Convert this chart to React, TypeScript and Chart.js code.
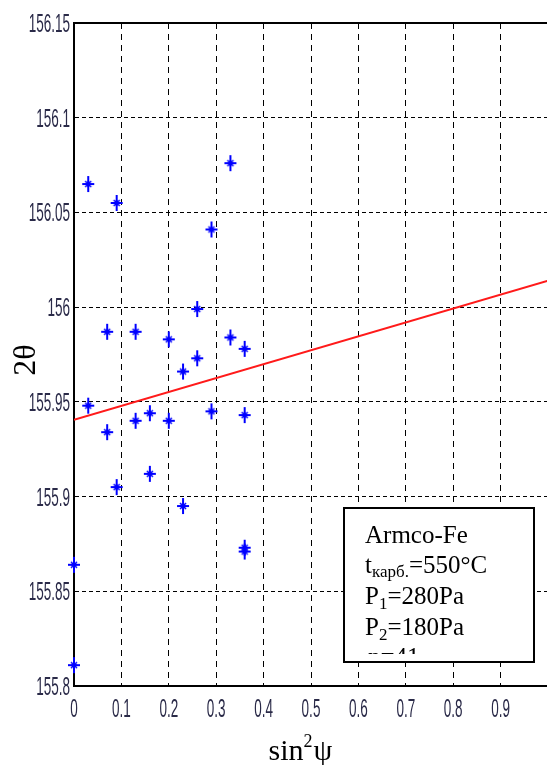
import React, { useEffect, useRef } from "react";
import { Chart, registerables } from "chart.js";

Chart.register(...registerables);

// sin^2(psi) values of the measurements
const xValues = [0.03, 0.09, 0.33, 0.29, 0.07, 0.13, 0.26, 0.2, 0.23, 0.26, 0.33, 0.36, 0.03, 0.07, 0.13, 0.16, 0.2, 0.29, 0.36, 0.16, 0.09, 0.23, 0, 0, 0.36, 0.36];
// 2theta values
const yValues = [156.065, 156.055, 156.076, 156.041, 155.987, 155.987, 155.999, 155.983, 155.966, 155.973, 155.984, 155.978, 155.948, 155.934, 155.94, 155.944, 155.94, 155.945, 155.943, 155.912, 155.905, 155.895, 155.864, 155.811, 155.873, 155.871];

// regression line end points
const fitX = [0, 1];
const fitY = [155.9405, 156.014];

const xTicks = [0, 0.1, 0.2, 0.3, 0.4, 0.5, 0.6, 0.7, 0.8, 0.9, 1];
const xTickLabels = ["0", "0.1", "0.2", "0.3", "0.4", "0.5", "0.6", "0.7", "0.8", "0.9", "1"];
const yTicks = [155.8, 155.85, 155.9, 155.95, 156, 156.05, 156.1, 156.15];
const yTickLabels = ["155.8", "155.85", "155.9", "155.95", "156", "156.05", "156.1", "156.15"];

const xTitleMain = "sin";
const xTitleSup = "2";
const xTitleEnd = "ψ";
const yTitle = "2θ";

const noteLine1 = "Armco-Fe";
const noteLine2 = ["t", "карб.", "=550°C"];
const noteLine3 = ["P", "1", "=280Pa"];
const noteLine4 = ["P", "2", "=180Pa"];
const noteLine5 = "n=41";

const TICK_COLOR = "#2a2a48";

function makeMarker(): HTMLCanvasElement {
  const c = document.createElement("canvas");
  c.width = 16;
  c.height = 20;
  const g = c.getContext("2d")!;
  g.strokeStyle = "#0000ff";
  g.lineCap = "butt";
  g.lineWidth = 2;
  g.beginPath();
  g.moveTo(8, 2);
  g.lineTo(8, 18);
  g.moveTo(2, 10);
  g.lineTo(14, 10);
  g.stroke();
  g.lineWidth = 1.5;
  g.beginPath();
  g.moveTo(5, 7);
  g.lineTo(11, 13);
  g.moveTo(11, 7);
  g.lineTo(5, 13);
  g.stroke();
  return c;
}

const decorPlugin = {
  id: "decor",
  afterDraw(chart: any) {
    const { ctx, chartArea, scales } = chart;
    const xs = scales.x;
    const ys = scales.y;
    ctx.save();
    // top frame line
    ctx.strokeStyle = "#000";
    ctx.lineWidth = 2;
    ctx.beginPath();
    ctx.moveTo(chartArea.left, chartArea.top);
    ctx.lineTo(chartArea.right, chartArea.top);
    ctx.stroke();

    // tick labels (narrow)
    ctx.fillStyle = TICK_COLOR;
    ctx.font = '26px "Liberation Sans", Arial, sans-serif';
    ctx.textBaseline = "alphabetic";
    yTicks.forEach((v, i) => {
      const py = ys.getPixelForValue(v);
      ctx.save();
      ctx.translate(chartArea.left - 4, py + 9);
      ctx.scale(0.52, 1);
      ctx.textAlign = "right";
      ctx.fillText(yTickLabels[i], 0, 0);
      ctx.restore();
    });
    xTicks.forEach((v, i) => {
      const px = xs.getPixelForValue(v);
      ctx.save();
      ctx.translate(px + (i === xTicks.length - 1 ? 3 : 0), chartArea.bottom + 31);
      ctx.scale(0.52, 1);
      ctx.textAlign = "center";
      ctx.fillText(xTickLabels[i], 0, 0);
      ctx.restore();
    });

    // axis titles
    ctx.fillStyle = "#000";
    ctx.font = '30px "Liberation Serif", "Times New Roman", serif';
    ctx.textAlign = "left";
    const wMain = ctx.measureText(xTitleMain).width;
    ctx.font = '18px "Liberation Serif", "Times New Roman", serif';
    const wSup = ctx.measureText(xTitleSup).width;
    ctx.font = '30px "Liberation Serif", "Times New Roman", serif';
    const wEnd = ctx.measureText(xTitleEnd).width;
    const total = wMain + wSup + wEnd;
    let tx = 300 - total / 2;
    const tb = 760;
    ctx.fillText(xTitleMain, tx, tb);
    tx += wMain;
    ctx.font = '18px "Liberation Serif", "Times New Roman", serif';
    ctx.fillText(xTitleSup, tx, tb - 13);
    tx += wSup + 1;
    ctx.font = '30px "Liberation Serif", "Times New Roman", serif';
    ctx.fillText(xTitleEnd, tx, tb);

    ctx.save();
    ctx.translate(35, 360);
    ctx.rotate(-Math.PI / 2);
    ctx.font = '32px "Liberation Serif", "Times New Roman", serif';
    ctx.textAlign = "center";
    ctx.fillText(yTitle, 0, 0);
    ctx.restore();

    // note box
    const bx = 344, by = 508, bw = 190, bh = 154;
    ctx.fillStyle = "#fff";
    ctx.fillRect(bx, by, bw, bh);
    ctx.save();
    ctx.beginPath();
    ctx.rect(bx, by, bw, 146);
    ctx.clip();
    ctx.fillStyle = "#000";
    const big = '25px "Liberation Serif", "Times New Roman", serif';
    const small = '17px "Liberation Serif", "Times New Roman", serif';
    const lx = 365;
    ctx.textAlign = "left";
    ctx.font = big;
    ctx.fillText(noteLine1, lx, 543);
    const drawSub = (parts: string[], base: number, subDrop: number) => {
      let x = lx;
      ctx.font = big;
      ctx.fillText(parts[0], x, base);
      x += ctx.measureText(parts[0]).width;
      ctx.font = small;
      ctx.fillText(parts[1], x, base + subDrop);
      x += ctx.measureText(parts[1]).width;
      ctx.font = big;
      ctx.fillText(parts[2], x, base);
    };
    drawSub(noteLine2, 573, 4);
    drawSub(noteLine3, 604, 5);
    drawSub(noteLine4, 635, 5);
    ctx.font = big;
    ctx.fillText(noteLine5, lx + 3, 665);
    ctx.restore();
    ctx.strokeStyle = "#000";
    ctx.lineWidth = 2;
    ctx.strokeRect(bx, by, bw, bh);
    ctx.restore();
  },
};

export default function App() {
  const ref = useRef<HTMLCanvasElement | null>(null);
  useEffect(() => {
    if (!ref.current) return;
    const marker = makeMarker();
    const points = xValues.map((x, i) => ({ x, y: yValues[i] }));
    const fit = fitX.map((x, i) => ({ x, y: fitY[i] }));
    const chart = new Chart(ref.current, {
      type: "scatter",
      data: {
        datasets: [
          {
            type: "line",
            data: fit,
            borderColor: "#ff1a1a",
            borderWidth: 2,
            pointRadius: 0,
            fill: false,
          } as any,
          {
            data: points,
            pointStyle: marker as any,
            pointRadius: 8,
            clip: false as any,
          },
        ],
      },
      options: {
        responsive: false,
        animation: false,
        events: [],
        plugins: { legend: { display: false }, tooltip: { enabled: false } },
        layout: { padding: { left: 0, top: 23, right: 32, bottom: 0 } },
        scales: {
          x: {
            type: "linear",
            min: 0,
            max: 1,
            afterBuildTicks: (s: any) => {
              s.ticks = xTicks.map((v) => ({ value: v }));
            },
            afterFit: (s: any) => {
              s.height = 79;
            },
            ticks: { display: false },
            grid: { color: "#000", lineWidth: 1, drawTicks: false },
            border: { display: true, color: "#000", width: 2, dash: [6, 5] },
          },
          y: {
            type: "linear",
            min: 155.8,
            max: 156.15,
            afterBuildTicks: (s: any) => {
              s.ticks = yTicks.map((v) => ({ value: v }));
            },
            afterFit: (s: any) => {
              s.width = 74;
            },
            ticks: { display: false },
            grid: { color: "#000", lineWidth: 1, drawTicks: false },
            border: { display: true, color: "#000", width: 2, dash: [4, 3] },
          },
        },
      },
      plugins: [decorPlugin],
    });
    return () => chart.destroy();
  }, []);
  return (
    <div
      style={{
        position: "fixed",
        left: 0,
        top: 0,
        width: 547,
        height: 765,
        overflow: "hidden",
        background: "#fff",
      }}
    >
      <canvas ref={ref} width={580} height={765} style={{ display: "block", width: 580, height: 765 }} />
    </div>
  );
}
